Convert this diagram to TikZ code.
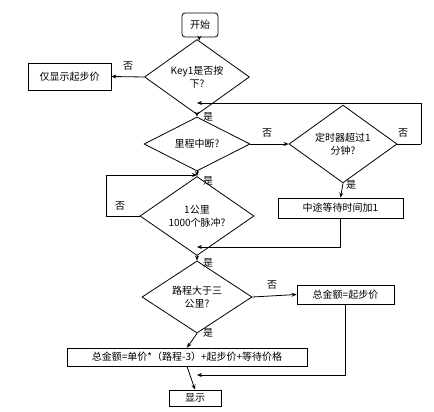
\documentclass[tikz,border=0pt]{standalone}
\usepackage{fontspec}
\setmainfont{Noto Sans CJK SC}
\usetikzlibrary{shapes.geometric,arrows.meta}
\begin{document}
\begin{tikzpicture}[x=1pt,y=-1pt,
  every node/.style={font=\fontsize{10}{13}\selectfont},
  box/.style={draw,thick,rectangle,inner sep=0pt,minimum width=#1},
  dia/.style={draw,thick,diamond,inner sep=0pt,align=center},
  lab/.style={inner sep=0pt},
  arr/.style={thick,-{Stealth[length=5pt,width=4pt]}},
  ln/.style={thick}]
\useasboundingbox[fill=white] (0,0) rectangle (434,412);
\node[draw,thick,rounded corners=3pt,minimum width=36pt,minimum height=24pt,inner sep=0pt] (start) at (200,25) {开始};
\node[dia,minimum width=105pt,minimum height=44pt] (key) at (197,77) {Key1是否按\\下?};
\node[box=83pt,minimum height=27pt] (only) at (69.5,76.5) {仅显示起步价};
\node[dia,minimum width=106pt,minimum height=42pt] (mil) at (197,144) {里程中断?};
\node[dia,minimum width=108pt,minimum height=52pt] (timer) at (343,144) {定时器超过1\\分钟?};
\node[box=125pt,minimum height=20pt] (wait) at (340.5,208) {中途等待时间加1};
\node[dia,minimum width=114pt,minimum height=52pt] (km) at (197,216) {1公里\\1000个脉冲?};
\node[dia,minimum width=110pt,minimum height=52pt] (dist) at (197,297) {路程大于三\\公里?};
\node[box=97pt,minimum height=19pt] (base) at (345.5,294.5) {总金额=起步价};
\node[box=240pt,minimum height=18pt] (total) at (187,357) {总金额=单价*（路程-3）+起步价+等待价格};
\node[box=52pt,minimum height=16pt] (show) at (195,398) {显示};
\coordinate (j1) at (197,103);
\coordinate (j2) at (197,175);
\coordinate (j3) at (197,247);
\coordinate (j4) at (197,375);
\coordinate (r1) at (421,144);
\coordinate (l1) at (106,216);
% connectors
\draw[arr] (start) -- (key);
\draw[arr] (key.west) -- (only.east);
\node[lab] (n1) at (128,66) {否};
\draw[arr] (key.south) -- (mil.north);
\node[lab] (y1) at (208,117) {是};
\draw[arr] (mil.east) -- (timer.west);
\node[lab] (n2) at (267,133) {否};
\draw[ln] (timer.east) -- (r1);
\draw[arr] (r1) |- (j1);
\node[lab] (n3) at (403,133) {否};
\draw[arr] (timer.south) -- (wait.north);
\node[lab] (y2) at (351,185) {是};
\draw[arr] (wait.south) |- (j3);
\draw[arr] (mil.south) -- (km.north);
\node[lab] (y3) at (208,181) {是};
\draw[ln] (km.west) -- (l1);
\draw[arr] (l1) |- (j2);
\node[lab] (n4) at (120,206) {否};
\draw[arr] (km.south) -- (dist.north);
\node[lab] (y4) at (208,263) {是};
\draw[arr] (dist.east) -- (base.west);
\node[lab] (n5) at (272,285) {否};
\draw[arr] (dist.south) -- (total.north);
\node[lab] (y5) at (208,333) {是};
\draw[arr] (base.south) |- (j4);
\draw[arr] (total.south) -- (show.north);
\end{tikzpicture}
\end{document}
